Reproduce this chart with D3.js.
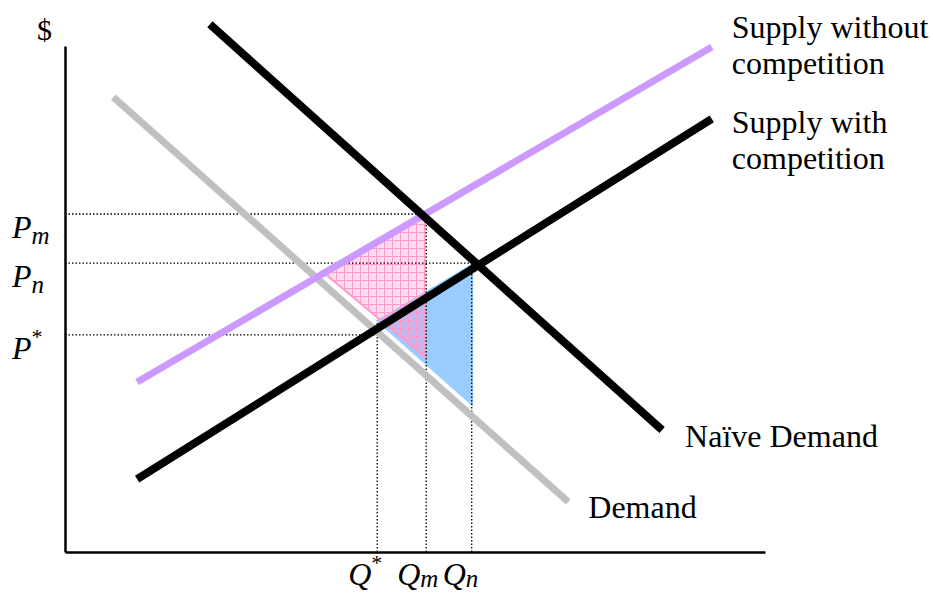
<!DOCTYPE html>
<html>

<head>
  <meta charset='utf-8'>
  <style>
    body { margin: 0; background: #fff; }
    text { font-family: "Liberation Serif", "Times New Roman", serif; fill: #000; }
  </style>
  <script src='https://cdn.jsdelivr.net/npm/d3@7/dist/d3.min.js'></script>
</head>

<body>

  <script type='module'>
    // curves as [x, y] end points, in quantity / price units (0..100)
    const naiveDemand = [[20.7, 104.3], [85.3, 24.1]]
    const demand = [[6.9, 89.9], [71.9, 9.9]]
    const supplyWithout = [[10.3, 33.6], [92.4, 99.8]]
    const supplyWith = [[10.3, 14.4], [92.4, 85.6]]

    // price levels and quantities on the axes
    const priceNames = ["m", "n", "*"]
    const prices = [66.8, 57.1, 42.9]
    const quantityNames = ["*", "m", "n"]
    const quantities = [44.6, 51.6, 58.1]
    const quantityTops = [45.5, 66.8, 57.1]
    const priceToQuantity = [1, 2, 0] // Pm->Qm, Pn->Qn, P*->Q*

    // shaded triangles
    const pinkArea = [[37.4, 54.7], [51.6, 66.8], [51.6, 38.3]]
    const blueArea = [[44.4, 45.7], [58.3, 57.1], [58.3, 28.7]]

    let [width, height] = [933, 596]

    let svg = d3.select("body")
      .append("svg")
      .attr("width", width)
      .attr("height", height)

    let x = d3.scaleLinear([0, 100], [65, 765])
    let y = d3.scaleLinear([0, 100], [552, 46])

    // pink crosshatch
    let pat = svg.append("defs").append("pattern")
      .attr("id", "hatch")
      .attr("patternUnits", "userSpaceOnUse")
      .attr("width", 8).attr("height", 8)
    pat.append("rect").attr("width", 8).attr("height", 8)
      .attr("fill", "#ff99cc").attr("fill-opacity", 0.3)
    pat.append("path").attr("d", "M0,0.5H8M0.5,0V8")
      .attr("stroke", "#ff99cc").attr("stroke-width", 1)
    pat.append("path").attr("d", "M4,2h1M2,4h1M6,4h1M4,6h1")
      .attr("stroke", "#ff99cc").attr("stroke-width", 1).attr("stroke-opacity", 0.5)

    let line = d3.line().x(d => x(d[0])).y(d => y(d[1]))
    let poly = d3.line().x(d => x(d[0])).y(d => y(d[1])).curve(d3.curveLinearClosed)

    svg.append("path")
      .attr("d", poly(blueArea))
      .attr("fill", "#99ccff")

    svg.append("path")
      .attr("d", poly(pinkArea))
      .attr("fill", "url(#hatch)")
    svg.append("path")
      .attr("d", line([pinkArea[0], pinkArea[2]]))
      .attr("stroke", "#ff99cc").attr("stroke-width", 2).attr("fill", "none")

    // dotted guides
    let guides = svg.append("g")
      .attr("stroke", "#000")
      .attr("stroke-width", 1.3)
      .attr("stroke-dasharray", "1.5,2")
      .attr("fill", "none")

    prices.forEach((p, i) => {
      guides.append("path").attr("d", line([[0, p], [quantities[priceToQuantity[i]], p]]))
    })
    quantities.forEach((q, i) => {
      guides.append("path").attr("d", line([[q, 0], [q, quantityTops[i]]]))
    })

    // axes
    let xAxis = g => g
      .attr("transform", `translate(0,${y(0)})`)
      .call(d3.axisBottom(x).ticks(0).tickSizeOuter(0))
      .call(g => g.select(".domain").attr("stroke-width", 2.5))

    let yAxis = g => g
      .attr("transform", `translate(${x(0)},0)`)
      .call(d3.axisLeft(y).ticks(0).tickSizeOuter(0))
      .call(g => g.select(".domain").attr("stroke-width", 2.5))

    svg.append("g").call(xAxis)
    svg.append("g").call(yAxis)

    // curves
    let curves = [
      { pts: demand, color: "#c0c0c0", w: 7 },
      { pts: supplyWithout, color: "#cc99ff", w: 7 },
      { pts: supplyWith, color: "#000", w: 8 },
      { pts: naiveDemand, color: "#000", w: 8 }
    ]
    svg.append("g").selectAll("path")
      .data(curves)
      .enter()
      .append("path")
      .attr("d", d => line(d.pts))
      .attr("stroke", d => d.color)
      .attr("stroke-width", d => d.w)
      .attr("fill", "none")

    // curve labels
    let label = (lines, px, py) => {
      let t = svg.append("text").attr("font-size", 32)
      lines.forEach((s, i) => {
        t.append("tspan").attr("x", px).attr("y", py + i * 36).text(s)
      })
    }
    label(["Supply without", "competition"], x(supplyWithout[1][0]) + 20, y(supplyWithout[1][1]) - 9)
    label(["Supply with", "competition"], x(supplyWith[1][0]) + 20, y(supplyWith[1][1]) + 14)
    label(["Naïve Demand"], x(naiveDemand[1][0]) + 23, y(naiveDemand[1][1]) + 17)
    label(["Demand"], x(demand[1][0]) + 20, y(demand[1][1]) + 16)

    svg.append("text").attr("font-size", 30)
      .attr("x", x(0) - 28).attr("y", y(100) - 6).text("$")

    // axis symbols
    prices.forEach((p, i) => {
      let t = svg.append("text").attr("x", 12).attr("y", y(p) + 24)
        .attr("font-size", 32).attr("font-style", "italic")
      t.append("tspan").text("P")
      if (priceNames[i] === "*")
        t.append("tspan").attr("font-size", 22).attr("font-style", "normal").attr("dy", -15).text("*")
      else
        t.append("tspan").attr("font-size", 25).attr("dy", 6).text(priceNames[i])
    })
    quantities.forEach((q, i) => {
      let t = svg.append("text").attr("x", x(q) - 29).attr("y", 585)
        .attr("font-size", 32).attr("font-style", "italic")
      t.append("tspan").text("Q")
      if (quantityNames[i] === "*")
        t.append("tspan").attr("font-size", 22).attr("font-style", "normal").attr("dy", -15).text("*")
      else
        t.append("tspan").attr("font-size", 25).attr("dy", 2).text(quantityNames[i])
    })
  </script>
</body>

</html>
